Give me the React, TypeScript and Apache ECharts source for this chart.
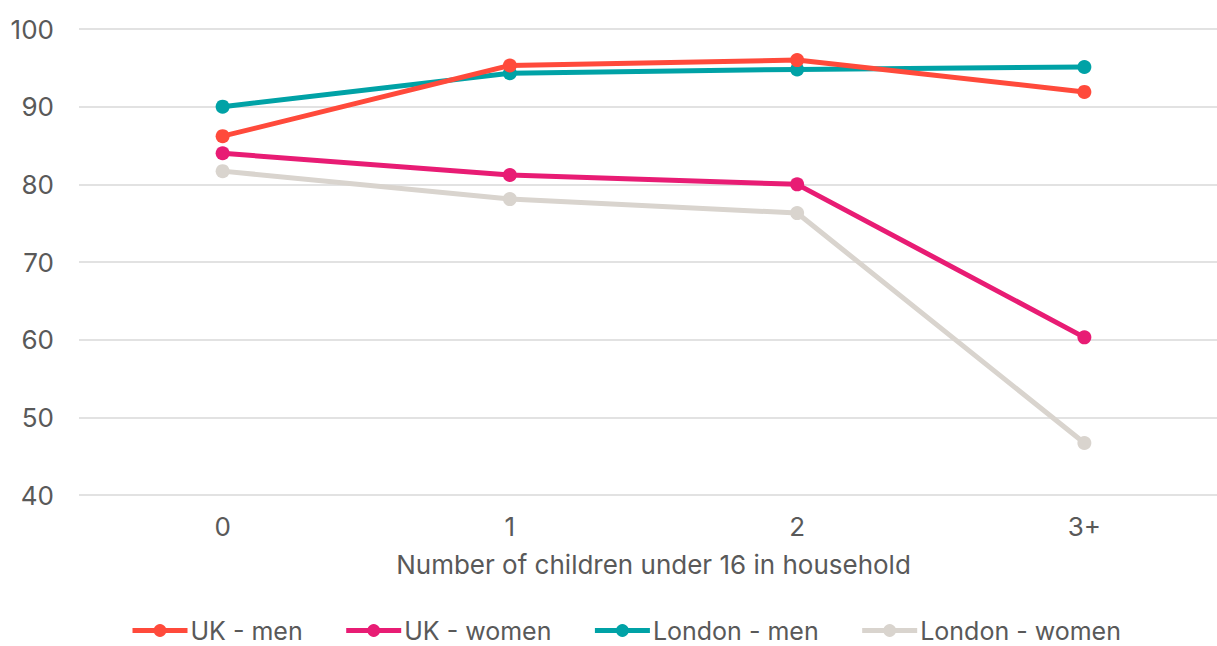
import React, { useEffect, useRef } from "react";
import * as echarts from "echarts";

// Number of children under 16 in the household
const categories = ["0", "1", "2", "3+"];

// Employment rate (%) by group
const ukMen = [86.2, 95.3, 96.0, 91.9];
const ukWomen = [84.0, 81.2, 80.0, 60.3];
const londonMen = [90.0, 94.3, 94.8, 95.1];
const londonWomen = [81.7, 78.1, 76.3, 46.7];

const seriesNames = ["UK - men", "UK - women", "London - men", "London - women"];
const seriesColors = ["#FF4A3B", "#E81C74", "#00A2A6", "#D9D4CE"];

const FONT = "Inter, Roboto, sans-serif";
const FONT_SIZE = 26;
const LEGEND_FONT_SIZE = 25;
const TEXT_COLOR = "#595959";

export default function App() {
  const ref = useRef<HTMLDivElement>(null);

  useEffect(() => {
    if (!ref.current) return;
    const chart = echarts.init(ref.current, undefined, { renderer: "svg" });
    const values = [ukMen, ukWomen, londonMen, londonWomen];

    chart.setOption({
      animation: false,
      backgroundColor: "#ffffff",
      // the plot runs slightly past the visible right edge
      grid: { left: 79, right: 12, top: 29, bottom: 151, containLabel: false },
      legend: {
        top: 618,
        left: 130,
        padding: 0,
        itemWidth: 55,
        itemHeight: 16,
        itemGap: 41,
        lineStyle: { width: 5 },
        textStyle: {
          fontFamily: FONT,
          fontSize: LEGEND_FONT_SIZE,
          lineHeight: 20,
          color: TEXT_COLOR,
          padding: [0, 0, 0, -2],
        },
        data: seriesNames,
      },
      xAxis: {
        type: "category",
        data: categories,
        boundaryGap: true,
        axisLine: { show: false },
        axisTick: { show: false },
        axisLabel: { fontFamily: FONT, fontSize: FONT_SIZE, color: TEXT_COLOR, margin: 18 },
        name: "Number of children under 16 in household",
        nameLocation: "middle",
        nameGap: 56,
        nameTextStyle: { fontFamily: FONT, fontSize: FONT_SIZE, color: TEXT_COLOR },
      },
      yAxis: {
        type: "value",
        min: 40,
        max: 100,
        interval: 10,
        axisLine: { show: false },
        axisTick: { show: false },
        axisLabel: { fontFamily: FONT, fontSize: FONT_SIZE, color: TEXT_COLOR, margin: 25 },
        splitLine: { lineStyle: { color: "#D9D9D9", width: 1.5 } },
      },
      series: seriesNames.map((name, i) => ({
        name,
        type: "line",
        data: values[i],
        symbol: "circle",
        symbolSize: 14,
        color: seriesColors[i],
        lineStyle: { width: 5, color: seriesColors[i] },
        itemStyle: { color: seriesColors[i] },
        z: 10 - i,
      })),
    });

    return () => chart.dispose();
  }, []);

  return (
    <div style={{ position: "fixed", left: 0, top: 0, width: 1217, height: 646, overflow: "hidden", background: "#fff" }}>
      <div ref={ref} style={{ width: 1240, height: 646 }} />
    </div>
  );
}
